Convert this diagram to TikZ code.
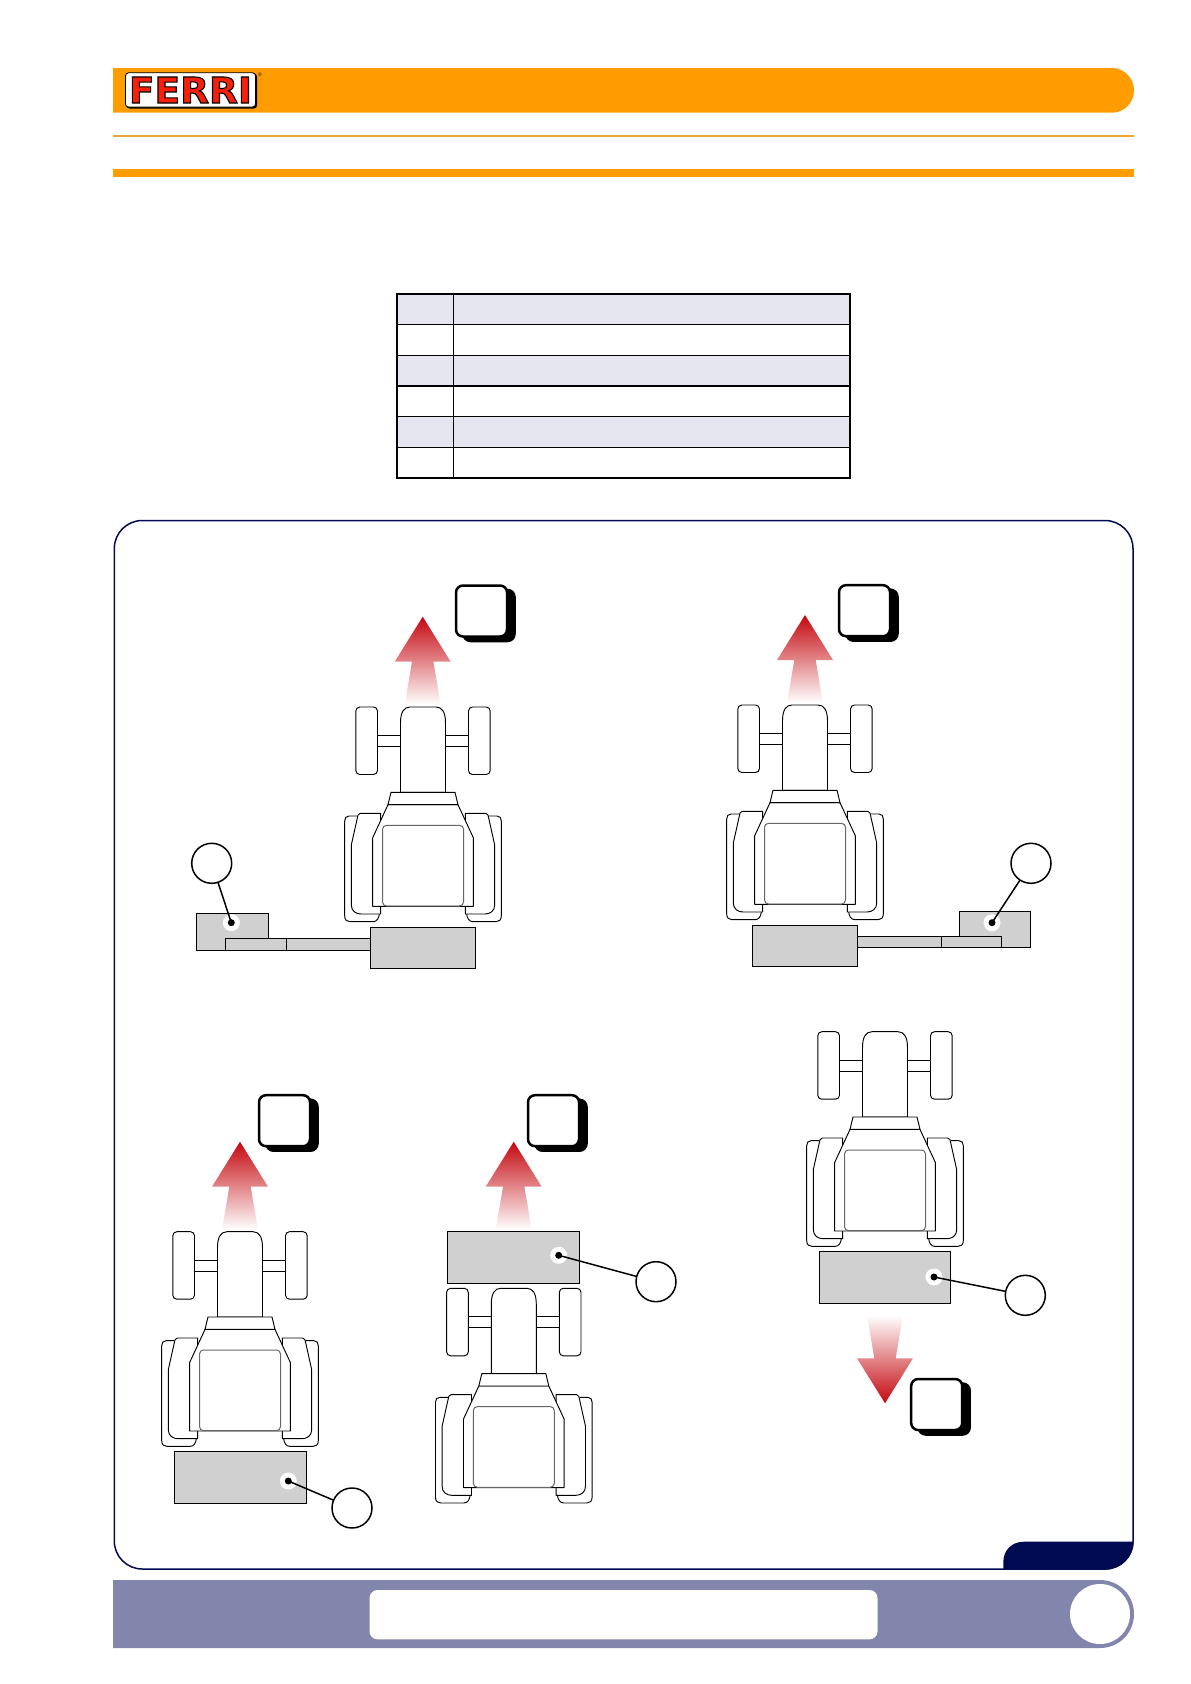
\documentclass[tikz,border=0pt]{standalone}
\usepackage{graphicx}
\usepackage{fontspec}
\setmainfont{Liberation Sans}
\newfontfamily\logofont{DejaVu Sans}
\definecolor{ferriorange}{HTML}{FF9C00}
\definecolor{ruleorange}{HTML}{E8A830}
\definecolor{panelnavy}{HTML}{000A50}
\definecolor{barblue}{HTML}{8286AD}
\definecolor{rowgrey}{HTML}{E4E5EE}
\definecolor{weightgrey}{HTML}{D0D0D0}
\definecolor{arrowred}{HTML}{C4080F}
\definecolor{arrowmid}{HTML}{E25C62}
\definecolor{logored}{HTML}{F8200A}
\tikzset{
  tline/.style={draw=black,line width=0.95pt,fill=white,line join=round},
  wline/.style={draw=black!60,line width=1pt,rounded corners=4pt},
  weight/.style={draw=black,line width=1.1pt,fill=weightgrey},
  callout/.style={circle,draw=black,line width=1.5pt,fill=white,minimum size=40pt,inner sep=0pt,outer sep=0pt},
  halo/.style={circle,fill=white,minimum size=17pt,inner sep=0pt},
  pin/.style={circle,fill=black,minimum size=7pt,inner sep=0pt},
  leader/.style={draw=black,line width=1.5pt},
  tractor/.pic={
    \foreach \s in {-1,1}{
      \begin{scope}[xscale=\s]
        \draw[tline,rounded corners=4pt] (45.5,0) rectangle (67.2,67.5);
        \draw[tline] (22.5,28.3) rectangle (45.5,39.3);
        \draw[tline,fill=none] (66,109) -- (74,109) .. controls (77,109) and (78.3,111) .. (78.3,114) -- (78.3,209) .. controls (78.3,213) and (76,214.7) .. (73,214.7) -- (50,214.7) .. controls (46,214.7) and (44,211) .. (43.7,207);
        \draw[tline] (42.3,106.3) -- (62.7,106.3) .. controls (64.2,106.3) and (64.7,107) .. (65,108) -- (71.7,138) -- (71.7,198) .. controls (71.7,204) and (67,207) .. (62,207) -- (42.3,207) -- cycle;
      \end{scope}
    }
    \draw[tline] (-22.5,85.3) -- (-22.5,16) .. controls (-22.5,5) and (-19,0) .. (-13,0) -- (13,0) .. controls (19,0) and (22.5,5) .. (22.5,16) -- (22.5,85.3) -- cycle;
    \draw[tline] (-35,97.7) -- (-50.3,130.7) -- (-50.3,199.3) -- (50.3,199.3) -- (50.3,130.7) -- (35,97.7) -- cycle;
    \draw[tline] (-32,85.3) -- (32,85.3) -- (35,97.7) -- (-35,97.7) -- cycle;
    \draw[wline] (-40.5,118.3) rectangle (40.5,199);
  }
}
\newcommand{\uparrowshape}[2]{%
  \shade[top color=arrowred,middle color=arrowmid,bottom color=white,shading angle=0]
    (#1,#2) -- (#1+28,#2+45) -- (#1+10.7,#2+45) -- (#1+18,#2+88) -- (#1-18,#2+88) -- (#1-10.7,#2+45) -- (#1-28,#2+45) -- cycle;}
\newcommand{\downarrowshape}[2]{%
  \shade[bottom color=arrowred,middle color=arrowmid,top color=white]
    (#1,#2) -- (#1+28,#2-45) -- (#1+10.7,#2-45) -- (#1+18,#2-88) -- (#1-18,#2-88) -- (#1-10.7,#2-45) -- (#1-28,#2-45) -- cycle;}
\newcommand{\tagbox}[2]{%
  \draw[line width=2.5pt,rounded corners=7pt,fill=black] (#1+7.5,#2+4.5) rectangle +(51,51);
  \draw[line width=2.5pt,rounded corners=7pt,fill=white] (#1,#2) rectangle +(51,51);}
\begin{document}
\begin{tikzpicture}[x=1pt,y=-1pt]
\useasboundingbox (0,0) rectangle (1191,1684);
% header
\fill[ferriorange] (113,68) -- (1112,68) .. controls (1124,68) and (1134,78) .. (1134,90.3) .. controls (1134,103) and (1124,112.7) .. (1112,112.7) -- (113,112.7) -- cycle;
\fill[black,rounded corners=3pt] (126.5,73.5) rectangle (257,108.5);
\draw[black,fill=white,line width=0.8pt,rounded corners=3pt] (125.5,72.8) rectangle (255.5,107);
\node[inner sep=0pt,text=logored] (logo) at (190.4,90) {\resizebox{123pt}{26pt}{\logofont\bfseries\special{pdf:code q 2 Tr 0.3 w 0 G}FERRI\special{pdf:code Q}}};
\node[inner sep=0pt,font=\fontsize{5}{5}\selectfont] (reg) at (260,74.5) {®};
\fill[ruleorange] (113,135) rectangle (1134,136.7);
\fill[ferriorange] (113,169) rectangle (1134,177);
% table
\foreach \r in {0,2,4}{
  \fill[rowgrey] (397,294+30.67*\r) rectangle (850,294+30.67*\r+30.67);
}
\foreach \r in {1,...,5}{
  \draw[black,line width=1.2pt] (397,294+30.67*\r) -- (850,294+30.67*\r);
}
\draw[black,line width=1.2pt] (453.5,294) -- (453.5,478);
\draw[black,line width=2pt] (397,294) rectangle (850,478);
% panel
\draw[panelnavy,line width=1.5pt,rounded corners=28pt] (114.3,520.5) rectangle (1133,1569);
\fill[panelnavy] (1003.3,1569) -- (1003.3,1562) .. controls (1003.3,1550) and (1012,1541.7) .. (1024,1541.7) -- (1133.7,1541.7) .. controls (1133.7,1557) and (1121,1569.7) .. (1105,1569.7) -- (1003.3,1569.7) -- cycle;
% bottom bar
\fill[barblue] (113,1580) -- (1100,1580) .. controls (1119,1580) and (1134,1595) .. (1134,1614) .. controls (1134,1633) and (1119,1648) .. (1100,1648) -- (113,1648) -- cycle;
\fill[white,rounded corners=8pt] (369.5,1590) rectangle (877.5,1639.3);
\node[circle,fill=white,minimum size=60pt,inner sep=0pt] (pagecircle) at (1100,1614) {};
% arrows
\uparrowshape{422.7}{616.7}
\uparrowshape{805}{615}
\uparrowshape{240}{1141.7}
\uparrowshape{513.7}{1141.7}
\downarrowshape{885}{1403.3}
% tractors
\pic at (423,707) {tractor};
\pic at (805,705) {tractor};
\pic at (240,1231.7) {tractor};
\pic at (513.8,1288.3) {tractor};
\pic at (885,1031.7) {tractor};
% implements 1
\draw[weight] (196.3,913.3) rectangle (268.7,950.3);
\draw[weight] (225.3,938.5) rectangle (286.3,950.3);
\draw[weight] (286.3,938.5) rectangle (370.3,950.3);
\draw[weight] (370.3,927.3) rectangle (475.7,968.3);
% implements 2
\draw[weight] (959.3,911.3) rectangle (1030.7,947.3);
\draw[weight] (941.3,936.7) rectangle (1001.3,947.3);
\draw[weight] (857.7,936.7) rectangle (941.3,947.3);
\draw[weight] (752.3,925.3) rectangle (857.7,966.3);
% weights
\draw[weight] (174.3,1451.3) rectangle (306.7,1503.3);
\draw[weight] (447.3,1231.3) rectangle (579.7,1283.3);
\draw[weight] (819.3,1251.3) rectangle (950.7,1303.3);
% callouts
\foreach \n/\dx/\dy/\cx/\cy in {a/231.3/922.7/211.7/863.3,
    b/992/922.7/1031/863.3,
    c/288.3/1481/352/1508,
    d/558.7/1255.3/656/1281.7,
    e/934/1277/1025.3/1295.3}{
  \node[halo] (h\n) at (\dx,\dy) {};
  \node[pin] (p\n) at (\dx,\dy) {};
  \node[callout] (c\n) at (\cx,\cy) {};
  \draw[leader] (c\n) -- (p\n.center);
}
% tags
\tagbox{456}{585.5}
\tagbox{839}{585.2}
\tagbox{259}{1095.2}
\tagbox{528}{1095.2}
\tagbox{911.2}{1379}
\end{tikzpicture}
\end{document}
